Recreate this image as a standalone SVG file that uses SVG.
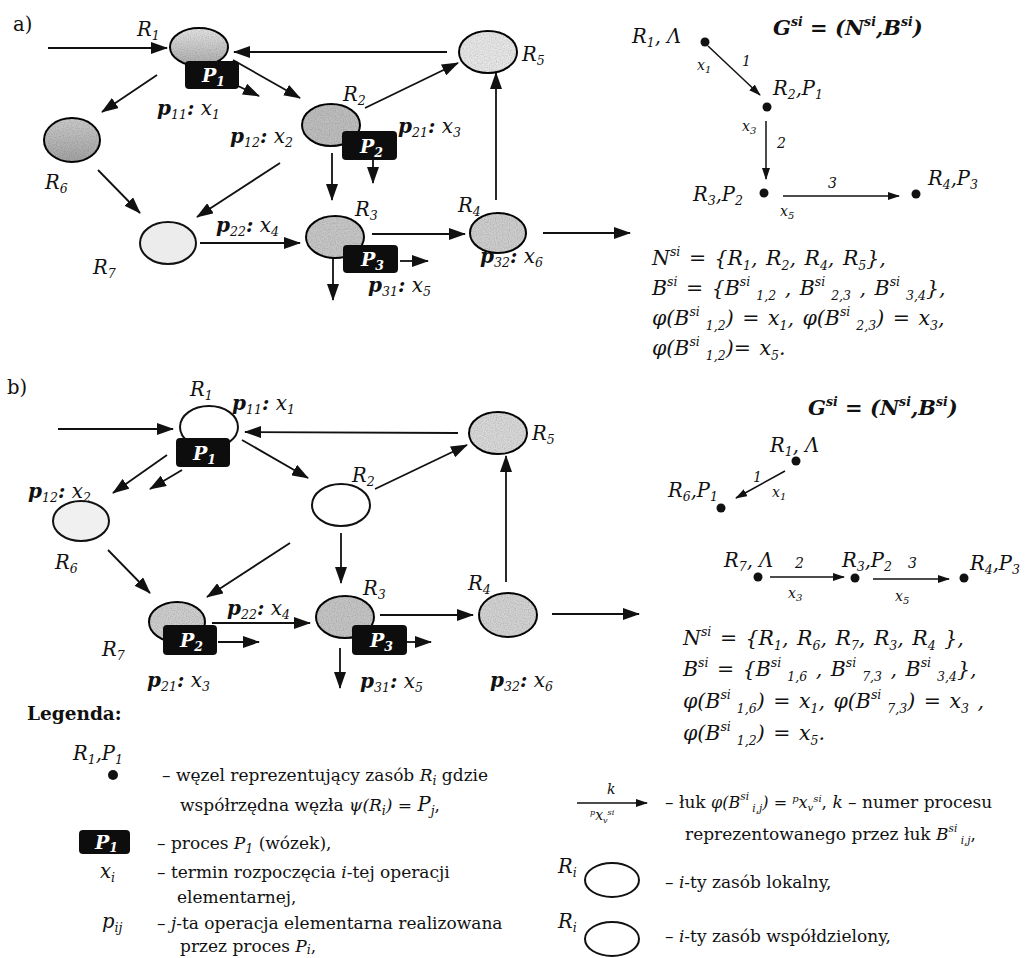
<svg xmlns="http://www.w3.org/2000/svg" width="1031" height="958" viewBox="0 0 1031 958">
  <defs>
    <style>
      text { font-family: "DejaVu Serif", "Liberation Serif", serif; fill: #111; }
      .e { stroke: #111; stroke-width: 2; }
      .g { filter: url(#grain); }
      .conn line { stroke: #111; stroke-width: 1.8; marker-end: url(#ah); }
      .gconn line { stroke: #111; stroke-width: 1.5; marker-end: url(#ahs); }
      .pbox { fill: #0d0d0d; }
      .ptxt { font-size: 19px; font-weight: bold; font-style: italic; fill: #fff; }
      .lbl { font-size: 19.5px; font-style: italic; }
      .pl { font-size: 20px; font-style: italic; }
      .b { font-weight: bold; }
      .sb { font-size: 12.5px; }
      .m { font-size: 20.5px; font-style: italic; word-spacing: 2px; }
      .s { font-size: 12.5px; }
      .gt { font-size: 21px; font-weight: bold; font-style: italic; }
      .sm { font-size: 14px; font-style: italic; }
      .sec { font-size: 19.5px; }
      .lg { font-size: 17px; }
      .i { font-style: italic; }
      .dot { fill: #111; }
    </style>
    <marker id="ah" viewBox="0 0 17 12" refX="16" refY="6" markerWidth="17" markerHeight="12" markerUnits="userSpaceOnUse" orient="auto">
      <path d="M0,0 L17,6 L0,12 z" fill="#111"/>
    </marker>
    <marker id="ahs" viewBox="0 0 12 8" refX="11" refY="4" markerWidth="12" markerHeight="8" markerUnits="userSpaceOnUse" orient="auto">
      <path d="M0,0 L12,4 L0,8 z" fill="#111"/>
    </marker>
    <linearGradient id="gR1" x1="0" y1="0" x2="0" y2="1">
      <stop offset="0" stop-color="#e4e4e4"/>
      <stop offset="1" stop-color="#ababab"/>
    </linearGradient>
    <linearGradient id="gR6" x1="0" y1="0" x2="0" y2="1">
      <stop offset="0" stop-color="#cbcbcb"/>
      <stop offset="1" stop-color="#a2a2a2"/>
    </linearGradient>
    <!-- speckled shading for the grey resource ellipses -->
    <filter id="grain" x="-5%" y="-5%" width="110%" height="110%">
      <feTurbulence type="fractalNoise" baseFrequency="0.85" numOctaves="1" seed="4" result="n"/>
      <feColorMatrix in="n" type="matrix" values="0 0 0 0 0  0 0 0 0 0  0 0 0 0 0  0 0 0 0.7 -0.28" result="dots"/>
      <feComposite in="dots" in2="SourceGraphic" operator="in" result="clip"/>
      <feMerge><feMergeNode in="SourceGraphic"/><feMergeNode in="clip"/></feMerge>
    </filter>
  </defs>
  <rect width="1031" height="958" fill="#fff"/>

  <!-- ===== part a) ===== -->
  <text class="sec" x="13" y="31">a)</text>

  <g id="connectors-a" class="conn">
    <line x1="48" y1="48" x2="167" y2="48"/>
    <line x1="447" y1="52" x2="234" y2="52"/>
    <line x1="233" y1="60" x2="300" y2="98"/>
    <line x1="238" y1="86" x2="259" y2="96"/>
    <line x1="157" y1="75" x2="102" y2="112"/>
    <line x1="365" y1="108" x2="458" y2="63"/>
    <line x1="332" y1="153" x2="332" y2="200"/>
    <line x1="373" y1="160" x2="373" y2="183"/>
    <line x1="280" y1="163" x2="197" y2="217"/>
    <line x1="98" y1="170" x2="140" y2="213"/>
    <line x1="200" y1="243" x2="300" y2="243"/>
    <line x1="372" y1="234" x2="465" y2="234"/>
    <line x1="400" y1="261" x2="428" y2="261"/>
    <line x1="333" y1="258" x2="333" y2="300"/>
    <line x1="496" y1="200" x2="496" y2="73"/>
    <line x1="543" y1="233" x2="630" y2="233"/>
  </g>

  <g id="a-R1">
    <ellipse class="e g" cx="199" cy="47" rx="29" ry="19" fill="url(#gR1)"/>
    <text class="lbl" x="137" y="36">R<tspan class="sb" dy="4">1</tspan></text>
  </g>
  <g id="a-P1">
    <rect class="pbox" x="185" y="61" width="54" height="28" rx="4"/>
    <text class="ptxt" x="202" y="82">P<tspan class="sb" dy="4">1</tspan></text>
    <text class="pl" x="157" y="115"><tspan class="b">p</tspan><tspan class="sb" dy="4">11</tspan><tspan class="b" dy="-4">:</tspan> x<tspan class="sb" dy="4">1</tspan></text>
  </g>
  <g id="a-R2">
    <ellipse class="e g" cx="331" cy="125" rx="29" ry="21" fill="#bdbdbd"/>
    <text class="lbl" x="343" y="101">R<tspan class="sb" dy="4">2</tspan></text>
    <text class="pl" x="230" y="143"><tspan class="b">p</tspan><tspan class="sb" dy="4">12</tspan><tspan class="b" dy="-4">:</tspan> x<tspan class="sb" dy="4">2</tspan></text>
  </g>
  <g id="a-P2">
    <rect class="pbox" x="342" y="131" width="55" height="29" rx="4"/>
    <text class="ptxt" x="360" y="153">P<tspan class="sb" dy="4">2</tspan></text>
    <text class="pl" x="398" y="133"><tspan class="b">p</tspan><tspan class="sb" dy="4">21</tspan><tspan class="b" dy="-4">:</tspan> x<tspan class="sb" dy="4">3</tspan></text>
  </g>
  <g id="a-R3">
    <ellipse class="e g" cx="335" cy="237" rx="29" ry="21" fill="#c6c6c6"/>
    <text class="lbl" x="355" y="216">R<tspan class="sb" dy="4">3</tspan></text>
  </g>
  <g id="a-P3">
    <rect class="pbox" x="343" y="245" width="55" height="28" rx="4"/>
    <text class="ptxt" x="361" y="266">P<tspan class="sb" dy="4">3</tspan></text>
    <text class="pl" x="368" y="292"><tspan class="b">p</tspan><tspan class="sb" dy="4">31</tspan><tspan class="b" dy="-4">:</tspan> x<tspan class="sb" dy="4">5</tspan></text>
  </g>
  <g id="a-R4">
    <ellipse class="e g" cx="498" cy="233" rx="28" ry="20" fill="#cdcdcd"/>
    <text class="lbl" x="458" y="212">R<tspan class="sb" dy="4">4</tspan></text>
    <text class="pl" x="480" y="263"><tspan class="b">p</tspan><tspan class="sb" dy="4">32</tspan><tspan class="b" dy="-4">:</tspan> x<tspan class="sb" dy="4">6</tspan></text>
  </g>
  <g id="a-R5">
    <ellipse class="e g" cx="488" cy="52" rx="29" ry="21" fill="#e6e6e6"/>
    <text class="lbl" x="522" y="61">R<tspan class="sb" dy="4">5</tspan></text>
  </g>
  <g id="a-R6">
    <ellipse class="e g" cx="72" cy="140" rx="28" ry="22" fill="url(#gR6)"/>
    <text class="lbl" x="45" y="189">R<tspan class="sb" dy="4">6</tspan></text>
  </g>
  <g id="a-R7">
    <ellipse class="e" cx="168" cy="243" rx="28" ry="21" fill="#ececec"/>
    <text class="lbl" x="93" y="274">R<tspan class="sb" dy="4">7</tspan></text>
    <text class="pl" x="216" y="232"><tspan class="b">p</tspan><tspan class="sb" dy="4">22</tspan><tspan class="b" dy="-4">:</tspan> x<tspan class="sb" dy="4">4</tspan></text>
  </g>

  <!-- graph G^si for a) -->
  <text class="gt" x="773" y="35">G<tspan class="s" dy="-9">si</tspan><tspan dy="9"> = (N</tspan><tspan class="s" dy="-9">si</tspan><tspan dy="9">,B</tspan><tspan class="s" dy="-9">si</tspan><tspan dy="9">)</tspan></text>
  <g id="ga-connectors" class="gconn">
    <line x1="708" y1="46" x2="760" y2="95"/>
    <line x1="766" y1="121" x2="766" y2="179"/>
    <line x1="783" y1="196" x2="899" y2="196"/>
  </g>
  <g id="ga-n1">
    <circle class="dot" cx="705" cy="42" r="4.5"/>
    <text class="lbl" x="632" y="43">R<tspan class="sb" dy="4">1</tspan><tspan dy="-4">, Λ</tspan></text>
  </g>
  <g id="ga-n2">
    <circle class="dot" cx="767" cy="107" r="4.5"/>
    <text class="lbl" x="773" y="95">R<tspan class="sb" dy="4">2</tspan><tspan dy="-4">,P</tspan><tspan class="sb" dy="4">1</tspan></text>
  </g>
  <g id="ga-n3">
    <circle class="dot" cx="764" cy="193" r="4.5"/>
    <text class="lbl" x="693" y="201">R<tspan class="sb" dy="4">3</tspan><tspan dy="-4">,P</tspan><tspan class="sb" dy="4">2</tspan></text>
  </g>
  <g id="ga-n4">
    <circle class="dot" cx="916" cy="194" r="4.5"/>
    <text class="lbl" x="928" y="185">R<tspan class="sb" dy="4">4</tspan><tspan dy="-4">,P</tspan><tspan class="sb" dy="4">3</tspan></text>
  </g>
  <text class="sm" x="697" y="70">x<tspan font-size="10" dy="3">1</tspan></text>
  <text class="sm" x="742" y="66">1</text>
  <text class="sm" x="742" y="131">x<tspan font-size="10" dy="3">3</tspan></text>
  <text class="sm" x="777" y="148">2</text>
  <text class="sm" x="828" y="188">3</text>
  <text class="sm" x="780" y="216">x<tspan font-size="10" dy="3">5</tspan></text>

  <g id="sets-a">
    <text class="m" x="652" y="265">N<tspan class="s" dy="-9">si</tspan><tspan dy="9"> = {R</tspan><tspan class="s" dy="5">1</tspan><tspan dy="-5">, R</tspan><tspan class="s" dy="5">2</tspan><tspan dy="-5">, R</tspan><tspan class="s" dy="5">4</tspan><tspan dy="-5">, R</tspan><tspan class="s" dy="5">5</tspan><tspan dy="-5">},</tspan></text>
    <text class="m" x="652" y="295">B<tspan class="s" dy="-9">si</tspan><tspan dy="9"> = {B</tspan><tspan class="s" dy="-9">si</tspan><tspan class="s" dy="14"> 1,2</tspan><tspan dy="-5"> , B</tspan><tspan class="s" dy="-9">si</tspan><tspan class="s" dy="14"> 2,3</tspan><tspan dy="-5"> , B</tspan><tspan class="s" dy="-9">si</tspan><tspan class="s" dy="14"> 3,4</tspan><tspan dy="-5">},</tspan></text>
    <text class="m" x="652" y="325">φ(B<tspan class="s" dy="-9">si</tspan><tspan class="s" dy="14"> 1,2</tspan><tspan dy="-5">) = x</tspan><tspan class="s" dy="5">1</tspan><tspan dy="-5">, φ(B</tspan><tspan class="s" dy="-9">si</tspan><tspan class="s" dy="14"> 2,3</tspan><tspan dy="-5">) = x</tspan><tspan class="s" dy="5">3</tspan><tspan dy="-5">,</tspan></text>
    <text class="m" x="652" y="355">φ(B<tspan class="s" dy="-9">si</tspan><tspan class="s" dy="14"> 1,2</tspan><tspan dy="-5">)= x</tspan><tspan class="s" dy="5">5</tspan><tspan dy="-5">.</tspan></text>
  </g>

  <!-- ===== part b) ===== -->
  <text class="sec" x="7" y="394">b)</text>

  <g id="connectors-b" class="conn">
    <line x1="58" y1="429" x2="173" y2="429"/>
    <line x1="458" y1="433" x2="245" y2="432"/>
    <line x1="242" y1="440" x2="308" y2="478"/>
    <line x1="167" y1="455" x2="113" y2="493"/>
    <line x1="182" y1="470" x2="150" y2="489"/>
    <line x1="108" y1="550" x2="150" y2="593"/>
    <line x1="375" y1="489" x2="467" y2="445"/>
    <line x1="341" y1="533" x2="341" y2="583"/>
    <line x1="290" y1="543" x2="207" y2="597"/>
    <line x1="506" y1="582" x2="506" y2="456"/>
    <line x1="218" y1="642" x2="259" y2="642"/>
    <line x1="212" y1="623" x2="310" y2="623"/>
    <line x1="407" y1="642" x2="431" y2="642"/>
    <line x1="340" y1="648" x2="340" y2="688"/>
    <line x1="380" y1="615" x2="473" y2="615"/>
    <line x1="552" y1="614" x2="639" y2="614"/>
  </g>

  <g id="b-R1">
    <ellipse class="e" cx="209" cy="427" rx="29" ry="21" fill="#fff"/>
    <text class="lbl" x="190" y="396">R<tspan class="sb" dy="4">1</tspan></text>
    <text class="pl" x="232" y="410"><tspan class="b">p</tspan><tspan class="sb" dy="4">11</tspan><tspan class="b" dy="-4">:</tspan> x<tspan class="sb" dy="4">1</tspan></text>
  </g>
  <g id="b-P1">
    <rect class="pbox" x="176" y="438" width="54" height="29" rx="4"/>
    <text class="ptxt" x="193" y="460">P<tspan class="sb" dy="4">1</tspan></text>
    <text class="pl" x="28" y="498"><tspan class="b">p</tspan><tspan class="sb" dy="4">12</tspan><tspan class="b" dy="-4">:</tspan> x<tspan class="sb" dy="4">2</tspan></text>
  </g>
  <g id="b-R2">
    <ellipse class="e" cx="341" cy="505" rx="29" ry="21" fill="#fff"/>
    <text class="lbl" x="352" y="482">R<tspan class="sb" dy="4">2</tspan></text>
  </g>
  <g id="b-R5">
    <ellipse class="e g" cx="498" cy="433" rx="29" ry="21" fill="#d8d8d8"/>
    <text class="lbl" x="532" y="440">R<tspan class="sb" dy="4">5</tspan></text>
  </g>
  <g id="b-R6">
    <ellipse class="e" cx="81" cy="521" rx="28" ry="20" fill="#f0f0f0"/>
    <text class="lbl" x="55" y="569">R<tspan class="sb" dy="4">6</tspan></text>
  </g>
  <g id="b-R7">
    <ellipse class="e g" cx="177" cy="622" rx="28" ry="20" fill="#cdcdcd"/>
    <text class="lbl" x="102" y="656">R<tspan class="sb" dy="4">7</tspan></text>
    <text class="pl" x="227" y="615"><tspan class="b">p</tspan><tspan class="sb" dy="4">22</tspan><tspan class="b" dy="-4">:</tspan> x<tspan class="sb" dy="4">4</tspan></text>
  </g>
  <g id="b-P2">
    <rect class="pbox" x="163" y="625" width="54" height="30" rx="4"/>
    <text class="ptxt" x="180" y="647">P<tspan class="sb" dy="4">2</tspan></text>
    <text class="pl" x="147" y="687"><tspan class="b">p</tspan><tspan class="sb" dy="4">21</tspan><tspan class="b" dy="-4">:</tspan> x<tspan class="sb" dy="4">3</tspan></text>
  </g>
  <g id="b-R3">
    <ellipse class="e g" cx="345" cy="617" rx="29" ry="21" fill="#c4c4c4"/>
    <text class="lbl" x="363" y="595">R<tspan class="sb" dy="4">3</tspan></text>
  </g>
  <g id="b-P3">
    <rect class="pbox" x="352" y="625" width="55" height="30" rx="4"/>
    <text class="ptxt" x="370" y="647">P<tspan class="sb" dy="4">3</tspan></text>
    <text class="pl" x="360" y="688"><tspan class="b">p</tspan><tspan class="sb" dy="4">31</tspan><tspan class="b" dy="-4">:</tspan> x<tspan class="sb" dy="4">5</tspan></text>
  </g>
  <g id="b-R4">
    <ellipse class="e g" cx="508" cy="615" rx="29" ry="22" fill="#d2d2d2"/>
    <text class="lbl" x="468" y="590">R<tspan class="sb" dy="4">4</tspan></text>
    <text class="pl" x="490" y="687"><tspan class="b">p</tspan><tspan class="sb" dy="4">32</tspan><tspan class="b" dy="-4">:</tspan> x<tspan class="sb" dy="4">6</tspan></text>
  </g>

  <!-- graph G^si for b) -->
  <text class="gt" x="808" y="415">G<tspan class="s" dy="-9">si</tspan><tspan dy="9"> = (N</tspan><tspan class="s" dy="-9">si</tspan><tspan dy="9">,B</tspan><tspan class="s" dy="-9">si</tspan><tspan dy="9">)</tspan></text>
  <g id="gb-connectors" class="gconn">
    <line x1="785" y1="471" x2="736" y2="498"/>
    <line x1="770" y1="577" x2="844" y2="577"/>
    <line x1="873" y1="579" x2="949" y2="579"/>
  </g>
  <g id="gb-n1">
    <circle class="dot" cx="796" cy="461" r="4.5"/>
    <text class="lbl" x="770" y="452">R<tspan class="sb" dy="4">1</tspan><tspan dy="-4">, Λ</tspan></text>
  </g>
  <g id="gb-n6">
    <circle class="dot" cx="721" cy="508" r="4.5"/>
    <text class="lbl" x="668" y="497">R<tspan class="sb" dy="4">6</tspan><tspan dy="-4">,P</tspan><tspan class="sb" dy="4">1</tspan></text>
  </g>
  <g id="gb-n7">
    <circle class="dot" cx="758" cy="577" r="4.5"/>
    <text class="lbl" x="724" y="567">R<tspan class="sb" dy="4">7</tspan><tspan dy="-4">, Λ</tspan></text>
  </g>
  <g id="gb-n3">
    <circle class="dot" cx="855" cy="578" r="4.5"/>
    <text class="lbl" x="842" y="567">R<tspan class="sb" dy="4">3</tspan><tspan dy="-4">,P</tspan><tspan class="sb" dy="4">2</tspan></text>
  </g>
  <g id="gb-n4">
    <circle class="dot" cx="964" cy="578" r="4.5"/>
    <text class="lbl" x="970" y="570">R<tspan class="sb" dy="4">4</tspan><tspan dy="-4">,P</tspan><tspan class="sb" dy="4">3</tspan></text>
  </g>
  <text class="sm" x="753" y="482">1</text>
  <text class="sm" x="772" y="497">x<tspan font-size="10" dy="3">1</tspan></text>
  <text class="sm" x="795" y="568">2</text>
  <text class="sm" x="788" y="598">x<tspan font-size="10" dy="3">3</tspan></text>
  <text class="sm" x="908" y="568">3</text>
  <text class="sm" x="895" y="601">x<tspan font-size="10" dy="3">5</tspan></text>

  <g id="sets-b">
    <text class="m" x="683" y="645">N<tspan class="s" dy="-9">si</tspan><tspan dy="9"> = {R</tspan><tspan class="s" dy="5">1</tspan><tspan dy="-5">, R</tspan><tspan class="s" dy="5">6</tspan><tspan dy="-5">, R</tspan><tspan class="s" dy="5">7</tspan><tspan dy="-5">, R</tspan><tspan class="s" dy="5">3</tspan><tspan dy="-5">, R</tspan><tspan class="s" dy="5">4</tspan><tspan dy="-5"> },</tspan></text>
    <text class="m" x="683" y="676">B<tspan class="s" dy="-9">si</tspan><tspan dy="9"> = {B</tspan><tspan class="s" dy="-9">si</tspan><tspan class="s" dy="14"> 1,6</tspan><tspan dy="-5"> , B</tspan><tspan class="s" dy="-9">si</tspan><tspan class="s" dy="14"> 7,3</tspan><tspan dy="-5"> , B</tspan><tspan class="s" dy="-9">si</tspan><tspan class="s" dy="14"> 3,4</tspan><tspan dy="-5">},</tspan></text>
    <text class="m" x="683" y="708">φ(B<tspan class="s" dy="-9">si</tspan><tspan class="s" dy="14"> 1,6</tspan><tspan dy="-5">) =  x</tspan><tspan class="s" dy="5">1</tspan><tspan dy="-5">, φ(B</tspan><tspan class="s" dy="-9">si</tspan><tspan class="s" dy="14"> 7,3</tspan><tspan dy="-5">) =  x</tspan><tspan class="s" dy="5">3</tspan><tspan dy="-5"> ,</tspan></text>
    <text class="m" x="683" y="740">φ(B<tspan class="s" dy="-9">si</tspan><tspan class="s" dy="14"> 1,2</tspan><tspan dy="-5">) =  x</tspan><tspan class="s" dy="5">5</tspan><tspan dy="-5">.</tspan></text>
  </g>

  <!-- ===== legend ===== -->
  <g id="legend">
    <text x="27" y="720" font-size="18.5" font-weight="bold">Legenda:</text>

    <g id="leg-node">
      <text class="lbl" x="73" y="760">R<tspan class="sb" dy="4">1</tspan><tspan dy="-4">,P</tspan><tspan class="sb" dy="4">1</tspan></text>
      <circle class="dot" cx="113" cy="775" r="5"/>
      <text class="lg" x="162" y="781">– węzel reprezentujący zasób <tspan class="i">R</tspan><tspan class="i sb" dy="4">i</tspan><tspan dy="-4"> gdzie</tspan></text>
      <text class="lg" x="180" y="811">współrzędna węzła <tspan class="i">ψ(R</tspan><tspan class="i sb" dy="4">i</tspan><tspan class="i" dy="-4">)</tspan> = <tspan class="i" font-size="19.5">P</tspan><tspan class="i sb" dy="4">j</tspan><tspan dy="-4">,</tspan></text>
    </g>
    <g id="leg-process">
      <rect class="pbox" x="79" y="830" width="51" height="24" rx="4"/>
      <text class="ptxt" x="95" y="849" font-size="17">P<tspan class="sb" dy="3">1</tspan></text>
      <text class="lg" x="157" y="849">– proces <tspan class="i">P</tspan><tspan class="i sb" dy="4">1</tspan><tspan dy="-4"> (wózek),</tspan></text>
    </g>
    <g id="leg-x">
      <text class="lbl" x="100" y="878" font-size="17">x<tspan class="sb" dy="4">i</tspan></text>
      <text class="lg" x="157" y="878">– termin rozpoczęcia <tspan class="i">i</tspan>-tej operacji</text>
      <text class="lg" x="177" y="903">elementarnej,</text>
    </g>
    <g id="leg-p">
      <text class="lbl" x="102" y="928" font-size="17">p<tspan class="sb" dy="4">ij</tspan></text>
      <text class="lg" x="157" y="929">– <tspan class="i">j</tspan>-ta operacja elementarna realizowana</text>
      <text class="lg" x="180" y="952">przez proces <tspan class="i">P</tspan><tspan class="i sb" dy="2">i</tspan><tspan dy="-2">,</tspan></text>
    </g>

    <g id="leg-arc">
      <line x1="577" y1="803" x2="647" y2="803" stroke="#111" stroke-width="1.5" marker-end="url(#ahs)"/>
      <text class="sm" x="607" y="794">k</text>
      <text class="sm" x="590" y="820" font-size="12.5"><tspan font-size="8" dy="-5">p</tspan><tspan dy="5">x</tspan><tspan font-size="8" dy="3">v</tspan><tspan font-size="8" dy="-8">si</tspan></text>
      <text class="lg" x="665" y="808">– łuk <tspan class="i" font-size="16">φ(B</tspan><tspan class="i" font-size="10.5" dy="-8">si</tspan><tspan class="i" font-size="10.5" dy="12"> i,j</tspan><tspan class="i" font-size="16" dy="-4">) = </tspan><tspan class="i" font-size="10" dy="-6">p</tspan><tspan class="i" font-size="16" dy="6">x</tspan><tspan class="i" font-size="10" dy="3">v</tspan><tspan class="i" font-size="10" dy="-9">si</tspan><tspan dy="6">, </tspan><tspan class="i">k</tspan> – numer procesu</text>
      <text class="lg" x="685" y="840">reprezentowanego przez łuk  <tspan class="i">B</tspan><tspan class="i" font-size="10.5" dy="-8">si</tspan><tspan class="i" font-size="10.5" dy="12"> i,j</tspan><tspan dy="-4">,</tspan></text>
    </g>
    <g id="leg-local">
      <text class="lbl" x="558" y="873">R<tspan class="sb" dy="4">i</tspan></text>
      <ellipse class="e" cx="612" cy="880" rx="27" ry="17" fill="#fff"/>
      <text class="lg" x="665" y="888">– <tspan class="i">i</tspan>-ty zasób lokalny,</text>
    </g>
    <g id="leg-shared">
      <text class="lbl" x="558" y="928">R<tspan class="sb" dy="4">i</tspan></text>
      <ellipse class="e" cx="612" cy="939" rx="27" ry="17" fill="#fff"/>
      <text class="lg" x="665" y="942">– <tspan class="i">i</tspan>-ty zasób współdzielony,</text>
    </g>
  </g>
</svg>
